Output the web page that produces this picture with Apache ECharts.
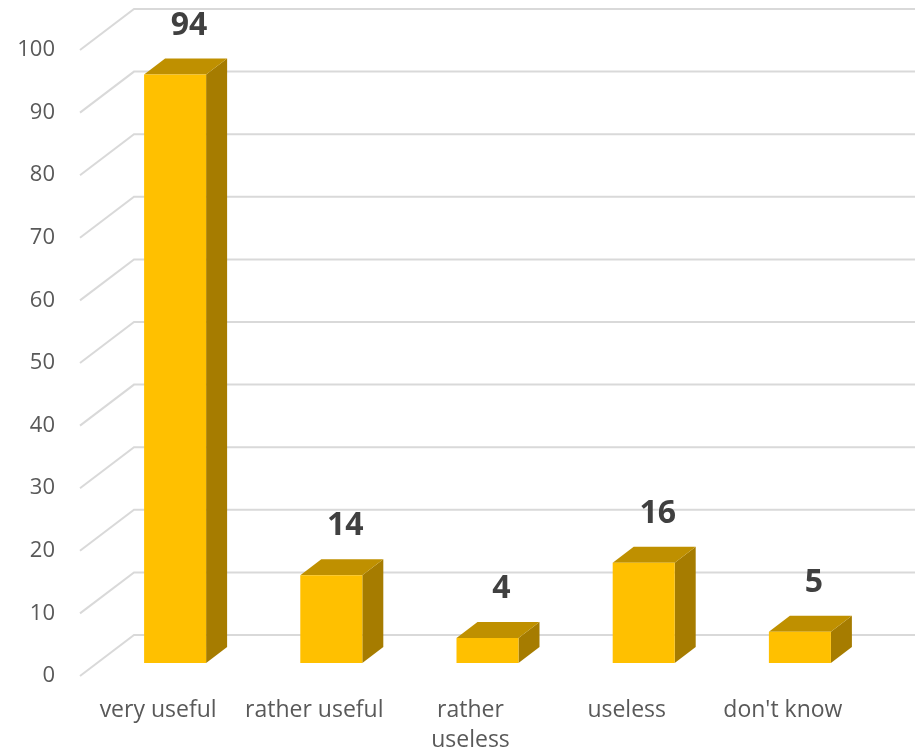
<!DOCTYPE html>
<html>
<head>
<meta charset="utf-8">
<script src="https://cdn.jsdelivr.net/npm/echarts@6/dist/echarts.min.js"></script>
<style>
  html, body { margin: 0; padding: 0; background: #ffffff; }
  #chart { width: 924px; height: 755px; }
</style>
</head>
<body>
<div id="chart"></div>
<script>
// Survey answers and their counts
const categories = ['very useful', 'rather useful', 'rather\nuseless', 'useless', "don't know"];
const counts = [94, 14, 4, 16, 5];
const yTicks = [0, 10, 20, 30, 40, 50, 60, 70, 80, 90, 100];

// Perspective offsets of the pseudo-3D floor (front edge -> back wall)
const DEPTH = [54, -41];
const BAR_FRONT = [17, -13];   // bar front face offset from the floor front edge
const BAR_DEPTH = [21, -16];   // bar thickness in depth
const FONT = '"Open Sans", "Liberation Sans", sans-serif';

const chart = echarts.init(document.getElementById('chart'));

chart.setOption({
  animation: false,
  backgroundColor: '#ffffff',
  grid: { left: 80, right: 63, top: 50, bottom: 78 },
  xAxis: {
    type: 'category',
    data: categories,
    boundaryGap: true,
    axisLine: { show: false },
    axisTick: { show: false },
    axisLabel: {
      margin: 19,
      color: '#595959',
      fontFamily: FONT,
      fontSize: 23,
      lineHeight: 30,
      interval: 0
    }
  },
  yAxis: {
    type: 'value',
    min: 0,
    max: 100,
    interval: 10,
    axisLine: { show: false },
    axisTick: { show: false },
    splitLine: { show: false },
    axisLabel: {
      margin: 25,
      color: '#595959',
      fontFamily: FONT,
      fontSize: 22
    }
  },
  series: [
    {
      // back-wall gridlines with their diagonal run across the floor/side
      type: 'custom',
      z: 1,
      silent: true,
      data: yTicks.map(v => [0, v]),
      renderItem: function (params, api) {
        const v = api.value(1);
        const band = api.size([1, 0])[0];
        const p = api.coord([0, v]);
        const xL = p[0] - band / 2;
        const xR = xL + band * categories.length;
        return {
          type: 'polyline',
          shape: {
            points: [
              [xL, p[1]],
              [xL + DEPTH[0], p[1] + DEPTH[1]],
              [xR + DEPTH[0], p[1] + DEPTH[1]]
            ]
          },
          style: { stroke: '#D9D9D9', lineWidth: 2, fill: null }
        };
      }
    },
    {
      // 3D bars: front, top and side faces plus the value label
      type: 'custom',
      z: 5,
      data: counts.map((v, i) => [i, v]),
      renderItem: function (params, api) {
        const idx = api.value(0);
        const v = api.value(1);
        const band = api.size([1, 0])[0];
        const w = band * 0.397;
        const top = api.coord([idx, v]);
        const base = api.coord([idx, 0]);
        const cx = top[0] + BAR_FRONT[0];
        const xl = cx - w / 2, xr = cx + w / 2;
        const yt = top[1] + BAR_FRONT[1];
        const yb = base[1] + BAR_FRONT[1];
        const dx = BAR_DEPTH[0], dy = BAR_DEPTH[1];
        return {
          type: 'group',
          children: [
            {
              type: 'polygon',
              shape: { points: [[xr, yt], [xr + dx, yt + dy], [xr + dx, yb + dy], [xr, yb]] },
              style: { fill: '#A67C00' }
            },
            {
              type: 'polygon',
              shape: { points: [[xl, yt], [xr, yt], [xr + dx, yt + dy], [xl + dx, yt + dy]] },
              style: { fill: '#BF9000' }
            },
            {
              type: 'rect',
              shape: { x: xl, y: yt, width: w, height: yb - yt },
              style: { fill: '#FFC000' }
            },
            {
              type: 'text',
              style: {
                text: String(v),
                x: cx + 14,
                y: yt + dy - 17,
                align: 'center',
                verticalAlign: 'bottom',
                fill: '#404040',
                fontFamily: FONT,
                fontWeight: 'bold',
                fontSize: 32
              }
            }
          ]
        };
      }
    }
  ]
});
</script>
</body>
</html>
